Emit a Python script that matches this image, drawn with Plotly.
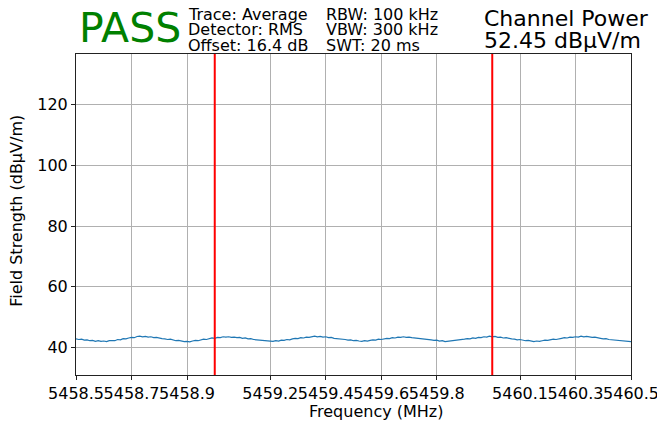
import plotly.graph_objects as go

# ---------------- data ----------------
freq_start_mhz = 5458.5
freq_step_mhz = 0.01
field_strength = [
    42.8, 42.6, 42.7, 42.4, 42.5, 42.2, 42.3, 42.0, 42.2, 42.0,
    42.1, 41.9, 42.2, 42.3, 42.2, 42.6, 42.5, 42.9, 42.8, 43.1, 43.3, 43.2, 43.6,
    43.7, 43.5, 43.6, 43.4, 43.5, 43.2, 43.3, 43.0, 42.9, 42.8, 42.6, 42.7, 42.4, 42.2, 42.3, 42.0, 41.9,
    42.0, 41.8, 42.1, 42.3, 42.2, 42.5, 42.7, 42.6, 42.9, 43.1, 43.0, 43.3, 43.2, 43.5, 43.4,
    43.5, 43.3, 43.4, 43.2, 43.3, 43.0, 43.1, 42.8, 42.9, 42.6, 42.5, 42.3, 42.4, 42.1, 42.2, 41.9,
    42.0, 42.2, 42.1, 42.4, 42.3, 42.6, 42.5, 42.8, 43.0, 42.9, 43.2, 43.1, 43.4, 43.3, 43.5, 43.7,
    43.5, 43.6, 43.4, 43.5, 43.2, 43.3, 43.0, 42.9, 43.0, 42.7, 42.6, 42.4, 42.5, 42.2, 42.3, 42.1,
    42.0, 42.2, 42.1, 42.3, 42.5, 42.4, 42.7, 42.6, 42.9, 43.0, 42.9, 43.2, 43.1, 43.4, 43.3,
    43.5, 43.3, 43.4, 43.2, 43.1, 43.2, 42.9, 42.8, 42.9, 42.6, 42.5, 42.3, 42.4, 42.1, 42.2, 41.9,
    42.0, 42.2, 42.1, 42.4, 42.3, 42.6, 42.7, 42.9, 42.8, 43.1, 43.0, 43.3, 43.2, 43.5, 43.4, 43.7,
    43.5, 43.6, 43.3, 43.4, 43.1, 43.2, 42.9, 42.8, 42.7, 42.5, 42.6, 42.3, 42.2, 42.3, 42.0, 41.9,
    42.1, 42.0, 42.2, 42.4, 42.3, 42.5, 42.7, 42.6, 42.9, 43.0, 43.2, 43.1, 43.4, 43.3, 43.5, 43.4, 43.7,
    43.5, 43.6, 43.4, 43.3, 43.4, 43.1, 43.0, 42.8, 42.9, 42.6, 42.5, 42.4, 42.2, 42.3, 42.0, 42.1, 41.8, 41.9,
]
frequency = [round(freq_start_mhz + i * freq_step_mhz, 4) for i in range(len(field_strength))]

channel_edges = [5459.0, 5460.0]
x_tick_vals = [5458.5, 5458.7, 5458.9, 5459.2, 5459.4, 5459.6, 5459.8, 5460.1, 5460.3, 5460.5]
x_tick_text = ["5458.5", "5458.7", "5458.9", "5459.2", "5459.4", "5459.6", "5459.8", "5460.1", "5460.3", "5460.5"]
y_tick_vals = [40, 60, 80, 100, 120]
x_range = [5458.5, 5460.5]
y_range = [30.9, 136.7]

verdict = "PASS"
settings_col1 = ["Trace: Average", "Detector: RMS", "Offset: 16.4 dB"]
settings_col2 = ["RBW: 100 kHz", "VBW: 300 kHz", "SWT: 20 ms"]
power_title = "Channel Power"
power_value = "52.45 dBµV/m"

# ---------------- layout geometry ----------------
W, H = 657, 423
L, R, T, B = 76, 26.3, 54.3, 48
PW, PH = W - L - R, H - T - B
FONT = "DejaVu Sans"


def px(xp):
    return (xp - L) / PW


def py(yp):
    return 1 - (yp - T) / PH


fig = go.Figure()
fig.add_trace(go.Scatter(
    x=frequency, y=field_strength, mode="lines",
    line=dict(color="#1f77b4", width=1.2), showlegend=False,
))

for edge in channel_edges:
    fig.add_shape(type="line", xref="x", yref="paper", x0=edge, x1=edge, y0=0, y1=1,
                  line=dict(color="red", width=2))

ann = []
ann.append(dict(text=verdict, x=px(77), y=py(28), xanchor="left", yanchor="middle",
                font=dict(size=41, color="#008000", family=FONT)))
for i, t in enumerate(settings_col1):
    ann.append(dict(text=t, x=px(186), y=py(14.5 + 15.5 * i), xanchor="left", yanchor="middle",
                    font=dict(size=16, color="black", family=FONT)))
for i, t in enumerate(settings_col2):
    ann.append(dict(text=t, x=px(324), y=py(14.5 + 15.5 * i), xanchor="left", yanchor="middle",
                    font=dict(size=16, color="black", family=FONT)))
ann.append(dict(text=power_title, x=px(482), y=py(19), xanchor="left", yanchor="middle",
                font=dict(size=22, color="black", family=FONT)))
ann.append(dict(text=power_value, x=px(482), y=py(41), xanchor="left", yanchor="middle",
                font=dict(size=22, color="black", family=FONT)))
ann.append(dict(text="Frequency (MHz)", x=px(376), y=py(411), xanchor="center", yanchor="middle",
                font=dict(size=16, color="black", family=FONT)))
ann.append(dict(text="Field Strength (dBµV/m)", x=px(17), y=py(211), xanchor="center", yanchor="middle",
                textangle=-90, font=dict(size=16, color="black", family=FONT)))
for a in ann:
    a.update(xref="paper", yref="paper", showarrow=False)

axis_common = dict(
    showline=True, linecolor="#222", linewidth=1, mirror=True,
    ticks="outside", ticklen=4, tickwidth=1, tickcolor="#222",
    showgrid=True, gridcolor="#b0b0b0", gridwidth=1, zeroline=False,
    tickfont=dict(size=16, color="black", family=FONT),
    automargin=False, tickangle=0, ticklabeloverflow="allow",
)

fig.update_layout(
    width=W, height=H,
    margin=dict(l=L, r=R, t=T, b=B, pad=0, autoexpand=False),
    paper_bgcolor="white", plot_bgcolor="white",
    annotations=ann,
    xaxis=dict(range=x_range, tickvals=x_tick_vals, ticktext=x_tick_text, **axis_common),
    yaxis=dict(range=y_range, tickvals=y_tick_vals, **axis_common),
    showlegend=False,
)

fig.write_html("out.html", config={"displayModeBar": False},
               post_script="document.body.style.margin='0';")
